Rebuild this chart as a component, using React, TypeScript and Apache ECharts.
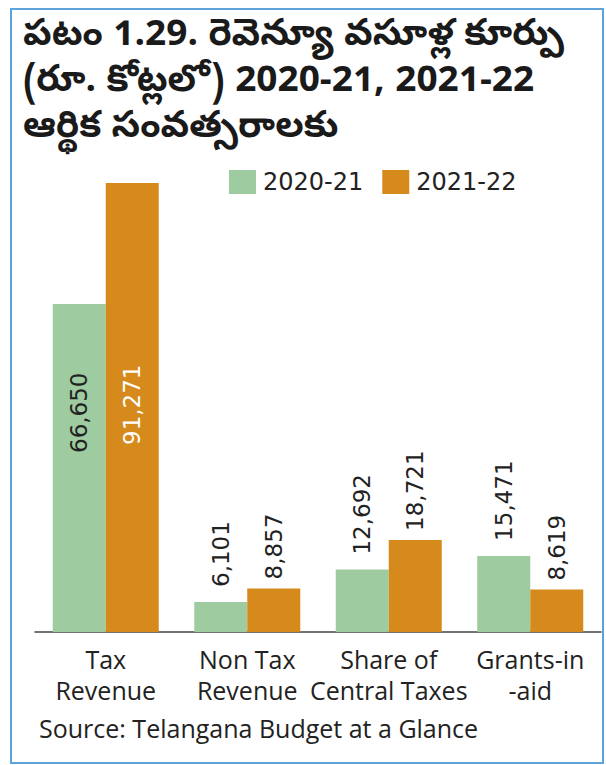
import React, { useEffect, useRef } from "react";
import * as echarts from "echarts";

const titleLines = [
  "పటం 1.29. రెవెన్యూ వసూళ్ల కూర్పు",
  "(రూ. కోట్లలో) 2020-21, 2021-22",
  "ఆర్థిక సంవత్సరాలకు",
];
const categories = ["Tax\nRevenue", "Non Tax\nRevenue", "Share of\nCentral Taxes", "Grants-in\n-aid"];
const seriesNames = ["2020-21", "2021-22"];
const values2020 = [66650, 6101, 12692, 15471];
const values2021 = [91271, 8857, 18721, 8619];
const sourceText = "Source: Telangana Budget at a Glance";

const GREEN = "#9ecb9f";
const ORANGE = "#d68a1c";
const TEXT = "#222222";

const fmt = (v: number) => v.toLocaleString("en-US");

export default function App() {
  const ref = useRef<HTMLDivElement>(null);
  useEffect(() => {
    if (!ref.current) return;
    const chart = echarts.init(ref.current, undefined, { renderer: "svg" });
    const labelBase = {
      show: true,
      rotate: 90,
      align: "left",
      verticalAlign: "middle",
      fontFamily: "DejaVu Sans",
      fontSize: 23,
      color: TEXT,
      formatter: (p: any) => fmt(p.value),
    };
    const data2020 = values2020.map((v, i) =>
      i === 0
        ? { value: v, label: { position: "insideBottom", distance: 179 } }
        : { value: v }
    );
    const data2021 = values2021.map((v, i) =>
      i === 0
        ? { value: v, label: { position: "insideBottom", distance: 187, color: "#ffffff" } }
        : { value: v }
    );
    chart.setOption({
      animation: false,
      backgroundColor: "#ffffff",
      title: {
        text: titleLines.join("\n"),
        left: 18,
        top: 10,
        textStyle: {
          fontFamily: "'Noto Sans Telugu', 'Noto Sans', sans-serif",
          fontWeight: "bold",
          fontSize: 37,
          lineHeight: 46,
          color: "#1a1a1a",
        },
      },
      legend: {
        left: 224,
        top: 165,
        itemWidth: 27,
        itemHeight: 24,
        itemGap: 19,
        icon: "rect",
        data: seriesNames,
        textStyle: {
          fontFamily: "DejaVu Sans",
          fontSize: 24,
          color: TEXT,
          padding: [0, 0, 0, 2],
        },
      },
      grid: { left: 35, right: 5, top: 140, bottom: 133 },
      xAxis: {
        type: "category",
        data: categories,
        axisTick: { show: false },
        axisLine: { lineStyle: { color: "#444444", width: 1.5 } },
        axisLabel: {
          interval: 0,
          margin: 11,
          fontFamily: "Open Sans",
          fontSize: 25,
          lineHeight: 31,
          color: TEXT,
        },
      },
      yAxis: {
        type: "value",
        min: 0,
        max: 100000,
        show: false,
        splitLine: { show: false },
      },
      series: [
        {
          name: seriesNames[0],
          type: "bar",
          barWidth: 53,
          barGap: "0%",
          itemStyle: { color: GREEN },
          label: { ...labelBase, position: "top", distance: 15 },
          data: data2020,
        },
        {
          name: seriesNames[1],
          type: "bar",
          barWidth: 53,
          barGap: "0%",
          itemStyle: { color: ORANGE },
          label: { ...labelBase, position: "top", distance: 9 },
          data: data2021,
        },
      ],
      graphic: [
        {
          type: "rect",
          shape: { x: 11, y: 9, width: 592, height: 754 },
          style: { fill: "none", stroke: "#5ea3dc", lineWidth: 2 },
          silent: true,
        },
        {
          type: "text",
          left: 39,
          top: 715,
          style: {
            text: sourceText,
            fontFamily: "Open Sans",
            fontSize: 25,
            fill: TEXT,
          },
        },
      ],
    });
    return () => chart.dispose();
  }, []);
  return (
    <div
      ref={ref}
      style={{ position: "absolute", left: 0, top: 0, width: 606, height: 765 }}
    />
  );
}
